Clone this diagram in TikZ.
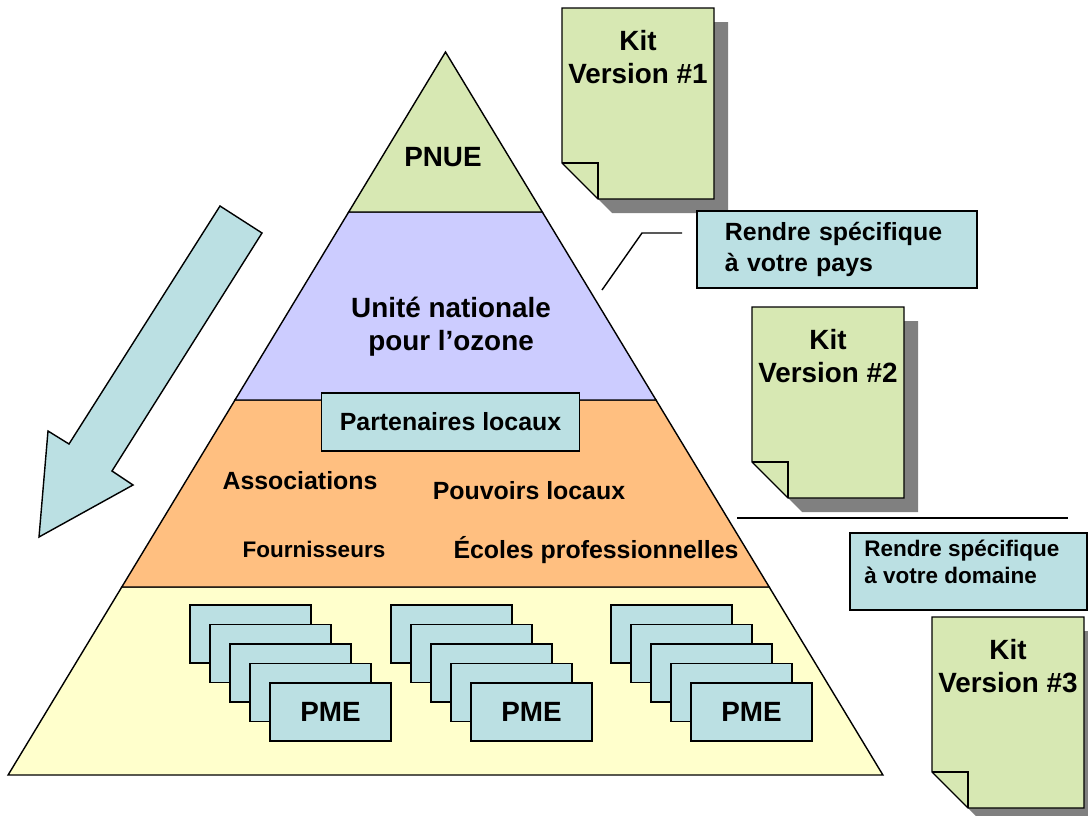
\documentclass[tikz,border=0pt]{standalone}
\usepackage{fontspec}
\setmainfont{Liberation Sans}
\usetikzlibrary{positioning,calc}

\definecolor{pnuegreen}{HTML}{D7E8B3}
\definecolor{unitblue}{HTML}{CCCCFF}
\definecolor{partorange}{HTML}{FFBF80}
\definecolor{pmeyellow}{HTML}{FFFFCC}
\definecolor{boxblue}{HTML}{BBE0E3}
\definecolor{shadowgray}{HTML}{808080}

\begin{document}
\begin{tikzpicture}[x=0.025cm, y=-0.025cm,
    band/.style={draw=black, line width=1pt},
    bluebox/.style={draw=black, line width=1pt, fill=boxblue},
    bigtext/.style={font=\fontsize{19.8}{23.5}\selectfont\bfseries, align=center},
    midtext/.style={font=\fontsize{17.7}{21.5}\selectfont\bfseries},
    smalltext/.style={font=\fontsize{16}{19.5}\selectfont\bfseries}]
    \useasboundingbox (0,0) rectangle (1088,816);

    % Pyramid bands
    \draw[band, fill=pmeyellow] (121.8,587) -- (769.2,587) -- (882.9,775) -- (8.1,775) -- cycle;
    \draw[band, fill=partorange] (235,400) -- (656,400) -- (769.2,587) -- (121.8,587) -- cycle;
    \draw[band, fill=unitblue] (348.7,212) -- (542.3,212) -- (656,400) -- (235,400) -- cycle;
    \draw[band, fill=pnuegreen] (445.5,52) -- (542.3,212) -- (348.7,212) -- cycle;

    \node[bigtext] (pnue) at (443,157) {PNUE};
    \node[bigtext] (unite) at (451,327) {Unité nationale\\pour l’ozone};
    \node[bluebox, midtext, minimum width=6.45cm, minimum height=1.45cm] (partenaires) at (450.5,422) {Partenaires locaux};
    \node[midtext] (assoc) at (300,481) {Associations};
    \node[midtext] (pouvoirs) at (529,491) {Pouvoirs locaux};
    \node[smalltext] (fourn) at (314,549) {Fournisseurs};
    \node[midtext] (ecoles) at (596,550) {Écoles professionnelles};

    % PME stacks
    \foreach \sx/\name in {190/pmeA, 391/pmeB, 611/pmeC} {
        \foreach \i in {0,...,3}
            \draw[bluebox] (\sx+20*\i,605+19.5*\i) rectangle ++(121,58);
        \node[bluebox, bigtext, minimum width=3.025cm, minimum height=1.45cm] (\name) at (\sx+140.5,712) {PME};
    }

    % Big arrow
    \draw[band, fill=boxblue] (220,206) -- (262,233) -- (112,471) -- (133,485) -- (39,537) -- (48,431) -- (69,444) -- cycle;

    % Kit documents
    \foreach \name/\x/\y/\n in {kitA/562/8/1, kitB/752/307/2, kitC/932/617/3} {
        \fill[shadowgray] (\x+14,\y+14) -- ++(152,0) -- ++(0,191) -- ++(-116,0) -- ++(-36,-36) -- cycle;
        \draw[band, fill=pnuegreen] (\x,\y) -- ++(152,0) -- ++(0,191) -- ++(-116,0) -- ++(-36,-36) -- cycle;
        \draw[band] (\x,\y+155) -- ++(36,0) -- ++(0,36);
        \node[bigtext] (\name) at (\x+76,\y+49) {Kit\\Version \#\n};
    }

    % Callouts
    \node[bluebox, midtext, text width=5.6cm, inner xsep=0.7cm, align=left, minimum height=1.925cm] (pays) at (837,249.5) {Rendre spécifique\\à votre pays};
    \coordinate (tipA) at (602,290);
    \coordinate (bendA) at (642,233);
    \coordinate (endA) at (682,233);
    \draw[line width=1pt] (tipA) -- (bendA) -- (endA);

    \coordinate (lineL) at (737,518);
    \coordinate (lineR) at (1068,518);
    \draw[line width=1pt] (lineL) -- (lineR);
    \node[bluebox, minimum width=5.925cm, minimum height=1.925cm] (domaine) at (968.5,571.5) {};
    \node[smalltext, align=left, inner sep=0pt, anchor=west] (domaineText) at (864,562) {Rendre spécifique\\à votre domaine};
\end{tikzpicture}
\end{document}
